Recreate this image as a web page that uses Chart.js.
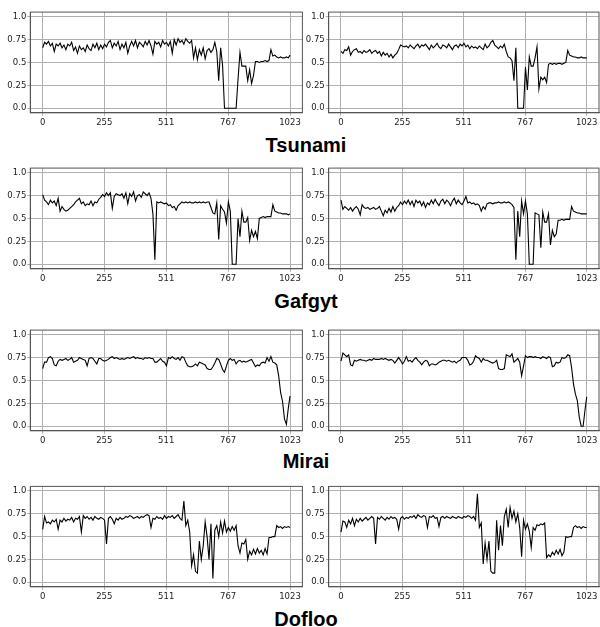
<!DOCTYPE html>
<html lang="en">
<head>
    <meta charset="UTF-8">
    <title>Tsunami / Gafgyt / Mirai / Dofloo</title>
    <script src="https://cdn.jsdelivr.net/npm/chart.js"></script>
    <style>
        body {
            margin: 0;
            background: #fff;
            width: 600px;
            height: 627px;
            position: relative;
            overflow: hidden;
        }
        canvas { position: absolute; }
        .title {
            position: absolute;
            left: 206px;
            width: 200px;
            text-align: center;
            font: bold 20px 'Liberation Sans', Arial, sans-serif;
            line-height: 20px;
            color: #000;
        }
    </style>
</head>
<body>
    <div class="title" style="top:135px">Tsunami</div>
    <div class="title" style="top:291px">Gafgyt</div>
    <div class="title" style="top:451px">Mirai</div>
    <div class="title" style="top:609px">Dofloo</div>

    <script>
        // axis ticks
        const xTicks = [0, 255, 511, 767, 1023];
        const xTickLabels = ['0', '255', '511', '767', '1023'];
        const yTicks = [0, 0.25, 0.5, 0.75, 1.0];
        const yTickLabels = ['0.0', '0.25', '0.5', '0.75', '1.0'];
        const step = 8; // one value read every 8 positions

        // values (left / right panel of each family)
        const tsunamiA = [
            0.66,0.72,0.70,0.73,0.68,0.71,0.62,0.70,0.68,0.71,
            0.66,0.69,0.64,0.70,0.68,0.72,0.63,0.67,0.60,0.68,
            0.64,0.66,0.62,0.69,0.65,0.63,0.70,0.66,0.71,0.64,
            0.69,0.65,0.70,0.67,0.72,0.74,0.66,0.71,0.68,0.73,
            0.64,0.70,0.66,0.72,0.60,0.68,0.73,0.68,0.74,0.66,
            0.72,0.70,0.67,0.73,0.69,0.74,0.68,0.59,0.73,0.70,
            0.72,0.67,0.74,0.70,0.72,0.68,0.73,0.60,0.75,0.69,
            0.76,0.72,0.74,0.70,0.76,0.73,0.71,0.74,0.55,0.66,
            0.53,0.64,0.58,0.66,0.54,0.63,0.65,0.61,0.64,0.72,
            0.62,0.30,0.66,0.47,0,0,0,0,0,0,
            0,0.32,0.61,0.46,0.46,0.46,0.30,0.42,0.27,0.36,
            0.51,0.51,0.50,0.51,0.51,0.52,0.51,0.52,0.64,0.57,
            0.58,0.56,0.55,0.56,0.55,0.55,0.56,0.55,0.58
        ];
        const tsunamiB = [
            0.62,0.60,0.64,0.63,0.67,0.58,0.62,0.64,0.65,0.61,
            0.62,0.60,0.63,0.61,0.62,0.64,0.60,0.62,0.63,0.60,
            0.62,0.57,0.61,0.58,0.60,0.56,0.59,0.55,0.58,0.60,
            0.64,0.69,0.68,0.67,0.68,0.66,0.69,0.67,0.65,0.68,
            0.70,0.66,0.69,0.68,0.70,0.67,0.64,0.69,0.66,0.68,
            0.71,0.67,0.65,0.69,0.68,0.66,0.70,0.67,0.64,0.68,
            0.69,0.66,0.70,0.68,0.71,0.67,0.69,0.65,0.68,0.66,
            0.67,0.65,0.68,0.66,0.64,0.70,0.66,0.68,0.72,0.74,
            0.69,0.67,0.65,0.68,0.66,0.70,0.62,0.56,0.55,0.52,
            0.30,0.66,0,0,0,0,0.45,0.20,0.56,0.46,
            0.46,0.55,0.67,0.21,0.34,0.31,0.34,0.28,0.48,0.49,
            0.48,0.49,0.48,0.49,0.49,0.48,0.49,0.50,0.63,0.58,
            0.57,0.56,0.56,0.55,0.55,0.56,0.55,0.55,0.55
        ];
        const gafgytA = [
            0.76,0.70,0.68,0.65,0.70,0.67,0.69,0.64,0.72,0.58,
            0.63,0.60,0.58,0.59,0.61,0.63,0.65,0.68,0.70,0.72,
            0.66,0.68,0.64,0.66,0.65,0.69,0.64,0.68,0.67,0.71,
            0.73,0.76,0.74,0.78,0.75,0.78,0.61,0.74,0.77,0.76,
            0.75,0.77,0.72,0.78,0.66,0.77,0.74,0.79,0.69,0.75,
            0.76,0.73,0.79,0.77,0.75,0.78,0.72,0.55,0.05,0.68,
            0.67,0.68,0.67,0.66,0.67,0.64,0.65,0.62,0.63,0.59,
            0.64,0.66,0.68,0.67,0.68,0.67,0.68,0.67,0.67,0.68,
            0.67,0.68,0.67,0.68,0.67,0.68,0.68,0.62,0.56,0.55,
            0.67,0.27,0.64,0.60,0.57,0.45,0.68,0.58,0,0,
            0,0.50,0.30,0.58,0.46,0.46,0.51,0.26,0.37,0.30,
            0.36,0.28,0.50,0.51,0.52,0.51,0.52,0.52,0.52,0.65,
            0.58,0.57,0.56,0.56,0.55,0.55,0.55,0.54,0.55
        ];
        const gafgytB = [
            0.70,0.60,0.63,0.61,0.59,0.62,0.58,0.61,0.63,0.60,
            0.54,0.65,0.62,0.61,0.62,0.60,0.61,0.62,0.60,0.61,
            0.63,0.58,0.53,0.59,0.56,0.61,0.57,0.63,0.58,0.62,
            0.64,0.68,0.65,0.69,0.66,0.70,0.65,0.69,0.63,0.70,
            0.67,0.69,0.64,0.68,0.62,0.67,0.65,0.70,0.66,0.71,
            0.67,0.64,0.69,0.71,0.66,0.70,0.68,0.64,0.69,0.72,
            0.66,0.70,0.67,0.65,0.69,0.74,0.67,0.68,0.66,0.67,
            0.65,0.66,0.64,0.58,0.63,0.60,0.66,0.67,0.67,0.66,
            0.67,0.67,0.68,0.67,0.67,0.68,0.67,0.68,0.67,0.65,
            0.62,0.05,0.58,0.30,0.69,0.55,0.69,0.55,0,0,
            0,0.56,0.55,0.54,0.18,0.57,0.46,0.46,0.55,0.21,
            0.37,0.30,0.33,0.48,0.48,0.49,0.48,0.49,0.49,0.49,
            0.63,0.58,0.57,0.56,0.56,0.55,0.55,0.55,0.55
        ];
        const miraiA = [
            0.63,0.70,0.70,0.75,0.76,0.74,0.67,0.66,0.71,0.73,
            0.72,0.73,0.74,0.72,0.73,0.75,0.70,0.71,0.72,0.75,
            0.74,0.73,0.72,0.66,0.74,0.75,0.74,0.71,0.68,0.74,
            0.74,0.72,0.71,0.72,0.73,0.75,0.76,0.74,0.75,0.74,
            0.73,0.74,0.73,0.74,0.75,0.74,0.75,0.76,0.74,0.75,
            0.74,0.74,0.73,0.75,0.74,0.75,0.74,0.74,0.70,0.70,
            0.72,0.74,0.71,0.70,0.66,0.75,0.74,0.76,0.74,0.73,
            0.75,0.72,0.76,0.75,0.70,0.66,0.65,0.65,0.66,0.68,
            0.66,0.70,0.69,0.68,0.67,0.63,0.62,0.62,0.65,0.69,
            0.74,0.73,0.68,0.62,0.59,0.66,0.72,0.74,0.72,0.73,
            0.68,0.71,0.72,0.70,0.71,0.70,0.71,0.72,0.73,0.69,
            0.65,0.67,0.66,0.69,0.70,0.69,0.75,0.71,0.76,0.70,
            0.69,0.67,0.55,0.37,0.27,0.08,0.02,0.20,0.33
        ];
        const miraiB = [
            0.71,0.80,0.78,0.76,0.78,0.67,0.66,0.72,0.71,0.72,
            0.73,0.72,0.72,0.71,0.72,0.73,0.72,0.74,0.73,0.73,
            0.73,0.74,0.73,0.74,0.73,0.72,0.73,0.72,0.69,0.72,
            0.75,0.72,0.68,0.71,0.76,0.71,0.72,0.70,0.73,0.75,
            0.72,0.70,0.67,0.70,0.72,0.71,0.66,0.68,0.68,0.67,
            0.68,0.70,0.71,0.72,0.72,0.71,0.72,0.71,0.70,0.71,
            0.69,0.71,0.72,0.75,0.75,0.75,0.72,0.67,0.68,0.71,
            0.77,0.75,0.74,0.70,0.74,0.72,0.72,0.71,0.70,0.69,
            0.70,0.72,0.63,0.62,0.62,0.63,0.78,0.77,0.76,0.79,
            0.70,0.72,0.74,0.70,0.55,0.66,0.77,0.75,0.76,0.76,
            0.75,0.76,0.75,0.75,0.74,0.76,0.75,0.74,0.76,0.75,
            0.65,0.66,0.70,0.69,0.70,0.75,0.74,0.75,0.78,0.77,
            0.64,0.46,0.35,0.28,0.10,0,0,0.18,0.32
        ];
        const doflooA = [
            0.58,0.72,0.65,0.66,0.64,0.68,0.66,0.69,0.58,0.68,
            0.66,0.70,0.67,0.69,0.68,0.71,0.66,0.70,0.69,0.72,
            0.55,0.73,0.70,0.72,0.69,0.71,0.68,0.72,0.70,0.69,
            0.71,0.70,0.68,0.42,0.70,0.72,0.69,0.64,0.70,0.68,
            0.71,0.69,0.70,0.72,0.71,0.73,0.72,0.70,0.71,0.72,
            0.70,0.72,0.71,0.73,0.74,0.73,0.60,0.70,0.69,0.72,
            0.70,0.71,0.69,0.73,0.70,0.72,0.71,0.73,0.70,0.72,
            0.74,0.70,0.68,0.89,0.62,0.68,0.55,0.18,0.30,0.12,
            0.10,0.45,0.25,0.40,0.66,0.50,0.25,0.64,0.04,0.57,
            0.62,0.50,0.66,0.54,0.67,0.55,0.60,0.56,0.61,0.57,
            0.62,0.40,0.32,0.43,0.42,0.47,0.25,0.34,0.30,0.36,
            0.31,0.37,0.32,0.35,0.30,0.37,0.31,0.49,0.49,0.50,
            0.50,0.62,0.60,0.61,0.59,0.61,0.60,0.61,0.60
        ];
        const doflooB = [
            0.55,0.67,0.66,0.60,0.68,0.64,0.70,0.62,0.69,0.66,
            0.70,0.67,0.69,0.71,0.68,0.70,0.72,0.70,0.42,0.71,
            0.69,0.72,0.70,0.68,0.71,0.69,0.72,0.70,0.71,0.69,
            0.58,0.70,0.72,0.69,0.71,0.70,0.72,0.71,0.73,0.70,
            0.74,0.72,0.71,0.73,0.72,0.60,0.72,0.71,0.73,0.70,
            0.71,0.61,0.71,0.72,0.70,0.72,0.71,0.70,0.72,0.71,
            0.70,0.72,0.71,0.70,0.72,0.71,0.73,0.72,0.70,0.72,
            0.68,0.97,0.60,0.65,0.20,0.43,0.25,0.45,0.12,0.10,
            0.10,0.68,0.35,0.62,0.40,0.72,0.80,0.60,0.82,0.70,
            0.78,0.66,0.75,0.60,0.28,0.68,0.58,0.64,0.56,0.38,
            0.60,0.57,0.63,0.62,0.64,0.63,0.65,0.27,0.30,0.28,
            0.33,0.30,0.35,0.31,0.36,0.29,0.33,0.50,0.49,0.50,
            0.50,0.60,0.62,0.60,0.61,0.59,0.61,0.60,0.60
        ];

        const rows = [
            [tsunamiA, tsunamiB],
            [gafgytA, gafgytB],
            [miraiA, miraiB],
            [doflooA, doflooB]
        ];

        // layout of the 4x2 grid
        const rowTop = [6, 162, 324, 480];
        const padTop = [6.1, 6.1, 6.1, 6.4];
        const cols = [
            { left: 0, width: 304, axisW: 30.3, padR: 1.6 },
            { left: 300, width: 300, axisW: 28.7, padR: 1 }
        ];
        const tickFont = { family: 'DejaVu Sans', size: 8.5 };

        // matplotlib style box round the plot area
        const frame = {
            id: 'frame',
            afterDraw(chart) {
                const a = chart.chartArea, c = chart.ctx;
                c.save();
                c.strokeStyle = '#555';
                c.lineWidth = 1;
                c.strokeRect(a.left, a.top, a.right - a.left, a.bottom - a.top);
                c.restore();
            }
        };

        function makePanel(values, r, k) {
            const col = cols[k];
            const canvas = document.createElement('canvas');
            canvas.width = col.width;
            canvas.height = 122;
            canvas.style.left = col.left + 'px';
            canvas.style.top = rowTop[r] + 'px';
            document.body.appendChild(canvas);

            new Chart(canvas.getContext('2d'), {
                type: 'line',
                data: {
                    datasets: [{
                        data: values.map((v, i) => ({ x: Math.min(i * step, 1023), y: v })),
                        borderColor: '#000',
                        borderWidth: 1.1,
                        pointRadius: 0,
                        tension: 0,
                        fill: false
                    }]
                },
                options: {
                    responsive: false,
                    animation: false,
                    layout: { padding: { top: padTop[r], right: col.padR, left: 0, bottom: 0 } },
                    plugins: { legend: { display: false }, tooltip: { enabled: false } },
                    scales: {
                        x: {
                            type: 'linear',
                            min: -51.15,
                            max: 1074.15,
                            afterBuildTicks: s => { s.ticks = xTicks.map(v => ({ value: v })); },
                            afterFit: s => { s.height = 15.2; },
                            ticks: {
                                autoSkip: false,
                                maxRotation: 0,
                                padding: 1.5,
                                font: tickFont,
                                color: '#222',
                                callback: (v, i) => xTickLabels[i]
                            },
                            grid: { color: '#b0b0b0', tickLength: 3 },
                            border: { color: '#555' }
                        },
                        y: {
                            min: -0.05,
                            max: 1.05,
                            afterBuildTicks: s => { s.ticks = yTicks.map(v => ({ value: v })); },
                            afterFit: s => { s.width = col.axisW; },
                            ticks: {
                                padding: 1,
                                font: tickFont,
                                color: '#222',
                                callback: (v, i) => yTickLabels[i]
                            },
                            grid: { color: '#b0b0b0', tickLength: 3 },
                            border: { color: '#555' }
                        }
                    }
                },
                plugins: [frame]
            });
        }

        rows.forEach((pair, r) => pair.forEach((values, k) => makePanel(values, r, k)));
    </script>
</body>
</html>
